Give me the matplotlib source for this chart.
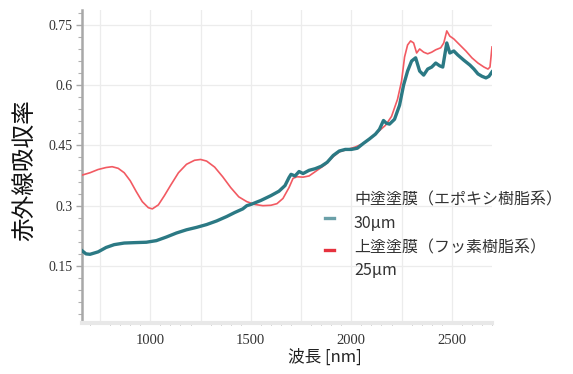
import matplotlib
matplotlib.use("Agg")
import matplotlib.pyplot as plt
from matplotlib.ticker import MultipleLocator, FuncFormatter
from matplotlib.lines import Line2D

plt.rcParams['font.family'] = ['Noto Sans CJK JP', 'DejaVu Sans']

# Infrared absorptance spectra of two coating films
wl_mid = [660, 680, 700, 740, 780, 820, 870, 920, 980, 1030, 1080, 1130, 1180,
          1230, 1280, 1330, 1380, 1420, 1460, 1480, 1500, 1550, 1600, 1640,
          1670, 1690, 1700, 1720, 1740, 1760, 1790, 1820, 1850, 1880, 1910,
          1940, 1970, 2000, 2030, 2060, 2090, 2120, 2140, 2160, 2175, 2190,
          2215, 2240, 2260, 2280, 2300, 2320, 2340, 2360, 2380, 2400, 2420,
          2440, 2455, 2475, 2490, 2510, 2530, 2560, 2590, 2610, 2630, 2650,
          2670, 2685, 2700]
abs_mid = [0.188, 0.180, 0.179, 0.185, 0.196, 0.203, 0.207, 0.208, 0.209,
           0.213, 0.222, 0.232, 0.240, 0.246, 0.253, 0.262, 0.273, 0.283,
           0.292, 0.300, 0.303, 0.313, 0.325, 0.336, 0.350, 0.370, 0.378,
           0.374, 0.385, 0.380, 0.388, 0.392, 0.398, 0.408, 0.425, 0.436,
           0.440, 0.440, 0.443, 0.455, 0.466, 0.478, 0.490, 0.512, 0.505,
           0.503, 0.515, 0.550, 0.600, 0.635, 0.660, 0.668, 0.635, 0.625,
           0.640, 0.645, 0.655, 0.648, 0.645, 0.705, 0.680, 0.685, 0.675,
           0.662, 0.650, 0.640, 0.628, 0.622, 0.618, 0.622, 0.633]

wl_top = [660, 700, 740, 780, 810, 840, 870, 900, 930, 960, 990, 1010, 1040,
          1070, 1100, 1140, 1180, 1220, 1250, 1280, 1320, 1360, 1400, 1440,
          1480, 1520, 1560, 1600, 1630, 1660, 1690, 1710, 1730, 1760, 1790,
          1830, 1870, 1910, 1940, 1980, 2020, 2060, 2100, 2140, 2170, 2200,
          2230, 2250, 2265, 2280, 2295, 2310, 2325, 2340, 2360, 2380, 2400,
          2420, 2445, 2460, 2475, 2490, 2510, 2540, 2570, 2600, 2630, 2660,
          2680, 2690, 2700]
abs_top = [0.376, 0.382, 0.390, 0.395, 0.397, 0.393, 0.382, 0.362, 0.335,
           0.310, 0.295, 0.292, 0.302, 0.325, 0.350, 0.382, 0.403, 0.413,
           0.415, 0.411, 0.396, 0.372, 0.345, 0.322, 0.310, 0.303, 0.300,
           0.301, 0.305, 0.318, 0.345, 0.368, 0.372, 0.371, 0.374, 0.388,
           0.402, 0.422, 0.434, 0.440, 0.446, 0.455, 0.470, 0.487, 0.500,
           0.522, 0.565, 0.610, 0.670, 0.700, 0.710, 0.705, 0.680, 0.690,
           0.682, 0.678, 0.682, 0.688, 0.693, 0.705, 0.735, 0.722, 0.715,
           0.700, 0.685, 0.668, 0.655, 0.645, 0.640, 0.645, 0.695]

series_names = ['中塗塗膜（エポキシ樹脂系）', '上塗塗膜（フッ素樹脂系）']
thickness = ['30µm', '25µm']
x_label = '波長 [nm]'
y_label = '赤外線吸収率'

fig = plt.figure(figsize=(5.73, 3.74), dpi=100)
ax = fig.add_axes([82 / 573, 51 / 374, 410 / 573, 313 / 374])

ax.plot(wl_top, abs_top, color='#f25a62', lw=1.2, zorder=3)
ax.plot(wl_mid, abs_mid, color='#2b7984', lw=2.4, zorder=4)

ax.set_xlim(660, 2700)
ax.set_ylim(0.008, 0.787)

ax.xaxis.set_major_locator(MultipleLocator(250))
ax.xaxis.set_minor_locator(MultipleLocator(50))
ax.xaxis.set_major_formatter(
    FuncFormatter(lambda v, p: f'{int(v)}' if v % 500 == 0 else ''))
ax.yaxis.set_major_locator(MultipleLocator(0.15))
ax.yaxis.set_minor_locator(MultipleLocator(0.03))
ax.yaxis.set_major_formatter(FuncFormatter(lambda v, p: f'{v:g}'))

ax.grid(True, which='major', color='#ececec', lw=0.9)
ax.set_axisbelow(True)

for s in ('top', 'right'):
    ax.spines[s].set_visible(False)
ax.spines['left'].set_color('#a8a8a8')
ax.spines['left'].set_linewidth(1.8)
ax.spines['bottom'].set_color('#e8e8e8')
ax.spines['bottom'].set_linewidth(3)

ax.tick_params(axis='y', which='major', length=4, width=1, color='#a8a8a8',
               labelsize=10, labelcolor='#333333', pad=3)
ax.tick_params(axis='y', which='minor', length=3, width=0.8, color='#b0b0b0')
ax.tick_params(axis='x', which='major', length=0, labelsize=10.5,
               labelcolor='#333333', pad=8)
ax.tick_params(axis='x', which='minor', length=3, width=0.7,
               color='#a8a8a8', direction='inout')
for lab in ax.get_xticklabels() + ax.get_yticklabels():
    lab.set_fontfamily('Liberation Serif')

ax.set_xlabel(x_label, fontsize=12, color='#222222')
ax.xaxis.set_label_coords(0.593, -0.083)
ax.set_ylabel(y_label, fontsize=17, color='#111111')
ax.yaxis.set_label_coords(-0.11, 0.489)

# Legend: short colour keys beside two-line labels
leg_colors = ['#6aa0a8', '#e6323e']
key_y = [218, 250]
text_y = [(200, 223), (248, 270)]
for name, th, col, ky, (ty1, ty2) in zip(series_names, thickness, leg_colors,
                                          key_y, text_y):
    fig.add_artist(Line2D([325 / 573, 334 / 573], [1 - ky / 374, 1 - ky / 374],
                          color=col, lw=2.4, transform=fig.transFigure))
    fig.text(354 / 573, 1 - ty1 / 374, name, fontsize=11.5, color='#333333',
             va='center', ha='left')
    fig.text(354 / 573, 1 - ty2 / 374, th, fontsize=11.5, color='#333333',
             va='center', ha='left')

fig.savefig('out.png', dpi=100)
